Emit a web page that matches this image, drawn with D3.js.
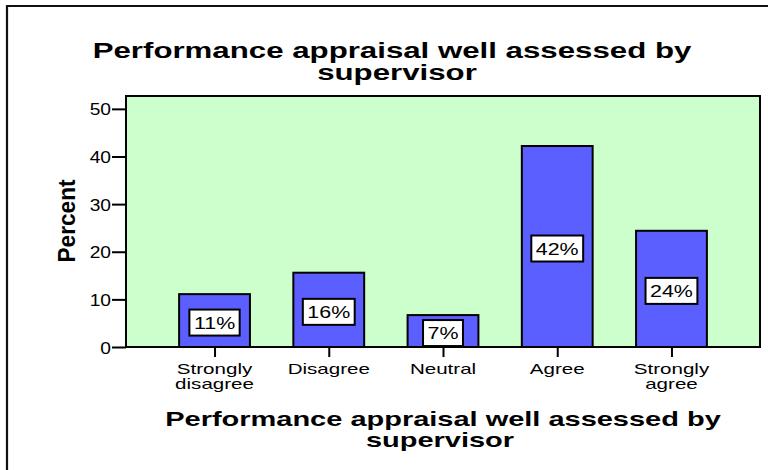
<!DOCTYPE html>
<html>
<head>
<meta charset="utf-8">
<script src="https://cdn.jsdelivr.net/npm/d3@7"></script>
<style>
  html, body { margin: 0; padding: 0; background: #fff; }
  svg { display: block; }
  text { font-family: "Liberation Sans", Arial, sans-serif; fill: #000; }
</style>
</head>
<body>
<svg id="chart" width="768" height="470"></svg>
<script>
// ---- data ----
const categories = ["Strongly disagree", "Disagree", "Neutral", "Agree", "Strongly agree"];
const categoryLines = [["Strongly", "disagree"], ["Disagree"], ["Neutral"], ["Agree"], ["Strongly", "agree"]];
const percents = [11.1, 15.6, 6.7, 42.2, 24.4];
const barLabels = ["11%", "16%", "7%", "42%", "24%"];
const yTicks = [0, 10, 20, 30, 40, 50];
const titleLines = ["Performance appraisal well assessed by", "supervisor"];
const xTitleLines = ["Performance appraisal well assessed by", "supervisor"];
const yTitle = "Percent";

// ---- layout ----
const svg = d3.select("#chart");
const plot = { left: 126, right: 760, top: 96, bottom: 347 };

const x = d3.scalePoint().domain(categories).range([plot.left, plot.right]).padding(0.775);
const y = d3.scaleLinear().domain([0, 52.7]).range([plot.bottom, plot.top]);
const barW = x.step() * 0.62;

function stext(parent, tx, ty, str, opts) {
  return parent.append("text")
    .attr("transform", `translate(${tx},${ty}) scale(${opts.sx},1)`)
    .attr("text-anchor", opts.anchor || "middle")
    .style("font-size", opts.size + "px")
    .style("font-weight", opts.bold ? "bold" : "normal")
    .text(str);
}

// outer frame (only left & top visible in the crop)
svg.append("path")
  .attr("d", "M7,470 L7,6 L768,6")
  .attr("fill", "none").attr("stroke", "#111").attr("stroke-width", 2.2);

// title
stext(svg, 392, 58, titleLines[0], { size: 22, bold: true, sx: 1.42 });
stext(svg, 397, 80, titleLines[1], { size: 22, bold: true, sx: 1.42 });

// plot background
svg.append("rect")
  .attr("x", plot.left).attr("y", plot.top)
  .attr("width", plot.right - plot.left).attr("height", plot.bottom - plot.top)
  .attr("fill", "#ccffcc").attr("stroke", "#000").attr("stroke-width", 2);

// bars
svg.selectAll("rect.bar").data(percents).join("rect")
  .attr("class", "bar")
  .attr("x", (d, i) => x(categories[i]) - barW / 2)
  .attr("y", d => y(d))
  .attr("width", barW)
  .attr("height", d => y(0) - y(d))
  .attr("fill", "#5b5fff").attr("stroke", "#000").attr("stroke-width", 2);

// bar labels
const lg = svg.append("g");
percents.forEach((d, i) => {
  const cx = x(categories[i]);
  const cy = (y(d) + y(0)) / 2 + 2;
  const g = lg.append("g");
  const rect = g.append("rect");
  const t = stext(g, cx, cy + 6, barLabels[i], { size: 17, sx: 1.26 });
  const w = t.node().getComputedTextLength() * 1.26 + 9;
  rect.attr("x", cx - w / 2).attr("y", cy - 13).attr("width", w).attr("height", 26)
    .attr("fill", "#fff").attr("stroke", "#000").attr("stroke-width", 2);
});

// y axis
const yAxis = svg.append("g").attr("transform", `translate(${plot.left},0)`)
  .call(d3.axisLeft(y).tickValues(yTicks).tickSize(14).tickPadding(2).tickFormat(d3.format("d")));
yAxis.select(".domain").remove();
yAxis.selectAll(".tick line").attr("stroke", "#000").attr("stroke-width", 2);
yAxis.selectAll(".tick text").each(function () {
  d3.select(this).attr("x", null).attr("dy", null)
    .attr("transform", "translate(-15,6) scale(1.2,1)")
    .attr("text-anchor", "end")
    .style("font-size", "16px").style("font-family", "Liberation Sans, Arial, sans-serif");
});

// x axis
const xAxis = svg.append("g").attr("transform", `translate(0,${plot.bottom})`)
  .call(d3.axisBottom(x).tickSize(10).tickFormat(""));
xAxis.select(".domain").remove();
xAxis.selectAll(".tick line").attr("stroke", "#000").attr("stroke-width", 2);
categories.forEach((c, i) => {
  categoryLines[i].forEach((ln, j) => {
    stext(svg, x(c), plot.bottom + 27 + j * 15, ln, { size: 15, sx: 1.37 });
  });
});

// axis titles
const xc = (plot.left + plot.right) / 2;
stext(svg, xc, 426, xTitleLines[0], { size: 21, bold: true, sx: 1.38 });
stext(svg, xc - 3, 447, xTitleLines[1], { size: 21, bold: true, sx: 1.38 });

svg.append("text")
  .attr("transform", `translate(75,221) rotate(-90)`)
  .attr("text-anchor", "middle")
  .style("font-size", "24px").style("font-weight", "bold")
  .attr("textLength", 83).attr("lengthAdjust", "spacingAndGlyphs")
  .text(yTitle);
</script>
</body>
</html>
